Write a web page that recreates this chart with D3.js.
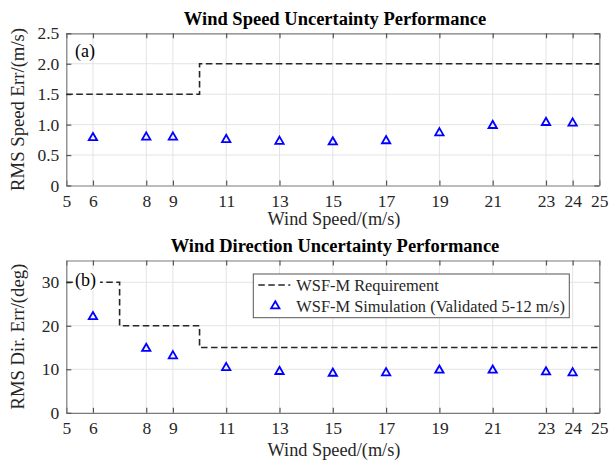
<!DOCTYPE html>
<html><head><meta charset="utf-8">
<script src="https://cdn.jsdelivr.net/npm/d3@7"></script>
<style>body{margin:0;background:#fff}svg{display:block}svg text{font-family:"Liberation Serif","Times New Roman",Tinos,serif !important}</style>
</head><body><svg id="c" width="615" height="465"></svg>
<script>
const windSpeeds = [6, 8, 9, 11, 13, 15, 17, 19, 21, 23, 24];
const speedErr = [0.80, 0.81, 0.81, 0.77, 0.74, 0.73, 0.75, 0.88, 1.00, 1.05, 1.04];
const dirErr = [22.3, 15.0, 13.3, 10.6, 9.7, 9.3, 9.4, 10.0, 10.0, 9.6, 9.4];
const speedReqX = [5, 10, 10, 25];
const speedReqY = [1.5, 1.5, 2.0, 2.0];
const dirReqX = [5, 7, 7, 10, 10, 25];
const dirReqY = [30, 30, 20, 20, 15, 15];
const xTicks = [5, 6, 8, 9, 11, 13, 15, 17, 19, 21, 23, 24, 25];
const speedYTicks = [0, 0.5, 1.0, 1.5, 2.0, 2.5];
const dirYTicks = [0, 10, 20, 30];
const titles = ["Wind Speed Uncertainty Performance", "Wind Direction Uncertainty Performance"];
const yLabels = ["RMS Speed Err/(m/s)", "RMS Dir. Err/(deg)"];
const xLabel = "Wind Speed/(m/s)";
const panelTags = ["(a)", "(b)"];
const legendLabels = ["WSF-M Requirement", "WSF-M Simulation (Validated 5-12 m/s)"];

const svg = d3.select("#c");
const L = 66.3, R = 599.3;
const x = d3.scaleLinear().domain([5, 25]).range([L, R]);
const DASH = "6.5,3.5";

function panel(i, top, bottom, yDomain, yTicks, yFmt, vals, reqX, reqY, xLabBase, withLegend) {
  const y = d3.scaleLinear().domain(yDomain).range([bottom, top]);
  const g = svg.append("g");
  // grid
  g.append("g").selectAll("line").data(xTicks.slice(1, -1)).join("line")
    .attr("x1", d => x(d)).attr("x2", d => x(d)).attr("y1", top).attr("y2", bottom)
    .attr("stroke", "#e3e3e3").attr("stroke-width", 1);
  g.append("g").selectAll("line").data(yTicks.slice(1).filter(d => d < yDomain[1])).join("line")
    .attr("x1", L).attr("x2", R).attr("y1", d => y(d)).attr("y2", d => y(d))
    .attr("stroke", "#e3e3e3").attr("stroke-width", 1);
  // axes
  const ax = d3.axisBottom(x).tickValues(xTicks).tickSizeInner(-5).tickSizeOuter(0).tickPadding(9).tickFormat(d3.format("d"));
  const axT = d3.axisTop(x).tickValues(xTicks).tickSizeInner(-5).tickSizeOuter(0).tickFormat("");
  const ay = d3.axisLeft(y).tickValues(yTicks).tickSizeInner(-5).tickSizeOuter(0).tickPadding(7).tickFormat(yFmt);
  const ayR = d3.axisRight(y).tickValues(yTicks).tickSizeInner(-5).tickSizeOuter(0).tickFormat("");
  function style(sel) {
    sel.attr("font-family", null);
    sel.select(".domain").attr("stroke", "#7a7a7a").attr("stroke-width", 1.2);
    sel.selectAll(".tick line").attr("stroke", "#555").attr("stroke-width", 1.2);
    sel.selectAll(".tick text").attr("fill", "#262626").style("font-size", "17.5px");
  }
  g.append("g").attr("transform", `translate(0,${bottom})`).call(ax).call(style);
  g.append("g").attr("transform", `translate(0,${top})`).call(axT).call(style);
  g.append("g").attr("transform", `translate(${L},0)`).call(ay).call(style);
  g.append("g").attr("transform", `translate(${R},0)`).call(ayR).call(style);

  // requirement line
  const pts = reqX.map((d, k) => [x(d), y(reqY[k])]);
  g.append("path").attr("d", d3.line()(pts)).attr("fill", "none")
    .attr("stroke", "#262626").attr("stroke-width", 1.6).attr("stroke-dasharray", DASH);
  const tagG = g.append("g");
  const tag = tagG.append("text").attr("x", 75).attr("y", top + (i === 0 ? 24 : 25)).text(panelTags[i])
    .style("font-size", "18px").attr("fill", "#000");
  if (i === 1) {
    const bb = tag.node().getBBox();
    tagG.insert("rect", ":first-child").attr("x", bb.x - 1).attr("y", bb.y).attr("width", bb.width + 5).attr("height", bb.height).attr("fill", "#fff");
  }
  // markers
  const tri = d3.symbol().type(d3.symbolTriangle).size(30);
  g.append("g").selectAll("path").data(windSpeeds).join("path")
    .attr("d", tri).attr("transform", (d, k) => `translate(${x(d)},${y(vals[k]) + 1})`)
    .attr("fill", "none").attr("stroke", "#0000ff").attr("stroke-width", 1.8);

  // title
  svg.append("text").attr("x", 335).attr("y", top - 8.5).attr("text-anchor", "middle")
    .style("font-size", "18.5px").style("font-weight", "bold").attr("fill", "#000").text(titles[i]);
  // x label
  svg.append("text").attr("x", 334).attr("y", xLabBase).attr("text-anchor", "middle")
    .style("font-size", "18.3px").attr("fill", "#262626").text(xLabel);
  // y label
  svg.append("text").attr("transform", `translate(24,${(top + bottom) / 2}) rotate(-90)`).attr("text-anchor", "middle")
    .style("font-size", "18.7px").attr("fill", "#262626").text(yLabels[i]);

  if (withLegend) {
    const lx = 253.3, ly = 274, lw = 316, lh = 43.7;
    const lg = svg.append("g");
    lg.append("rect").attr("x", lx).attr("y", ly).attr("width", lw).attr("height", lh)
      .attr("fill", "#fff").attr("stroke", "#555").attr("stroke-width", 1);
    lg.append("line").attr("x1", lx + 5).attr("x2", lx + 37).attr("y1", ly + 11).attr("y2", ly + 11)
      .attr("stroke", "#262626").attr("stroke-width", 1.6).attr("stroke-dasharray", DASH);
    lg.append("text").attr("x", lx + 43).attr("y", ly + 16.5).style("font-size", "16.4px").attr("fill", "#262626").text(legendLabels[0]);
    lg.append("path").attr("d", tri).attr("transform", `translate(${lx + 22},${ly + 32})`)
      .attr("fill", "none").attr("stroke", "#0000ff").attr("stroke-width", 1.8);
    lg.append("text").attr("x", lx + 43).attr("y", ly + 37.5).style("font-size", "16.4px").attr("fill", "#262626").text(legendLabels[1]);
  }
}

panel(0, 33.3, 185.5, [0, 2.5], speedYTicks, d => d === 0 ? "0" : d3.format(".1f")(d), speedErr, speedReqX, speedReqY, 225, false);
panel(1, 260.5, 412.8, [0, 35], dirYTicks, d3.format("d"), dirErr, dirReqX, dirReqY, 456, true);
</script></body></html>
